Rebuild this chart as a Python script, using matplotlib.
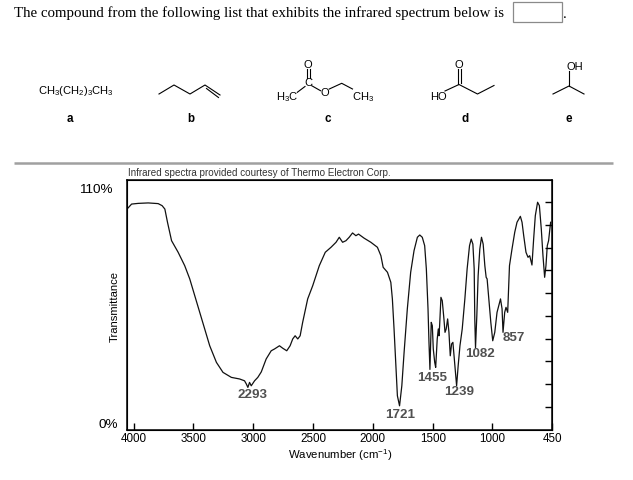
import matplotlib
matplotlib.use("Agg")
import matplotlib.pyplot as plt
from matplotlib.patches import Rectangle

plt.rcParams['font.family'] = ['Liberation Sans', 'DejaVu Sans']
plt.rcParams['mathtext.fontset'] = 'custom'
plt.rcParams['mathtext.rm'] = 'Liberation Sans'
plt.rcParams['mathtext.it'] = 'Liberation Sans:italic'
plt.rcParams['mathtext.bf'] = 'Liberation Sans:bold'

# ---- data ----
wavenumber = [4050, 4017, 3962, 3878, 3795, 3762, 3739, 3717, 3683, 3628, 3573, 3531,
              3489, 3447, 3406, 3364, 3308, 3253, 3183, 3114, 3073, 3058, 3045, 3031,
              3017, 2989, 2962, 2933, 2892, 2850, 2822, 2781, 2753, 2720, 2692, 2670,
              2650, 2628, 2608, 2587, 2545, 2503, 2448, 2398, 2350, 2308, 2281, 2253,
              2225, 2198, 2170, 2142, 2120, 2073, 2017, 1962, 1933, 1914, 1878, 1850,
              1837, 1823, 1808, 1795, 1777, 1758, 1739, 1712, 1684, 1656, 1628, 1608,
              1587, 1567, 1553, 1539, 1531, 1523, 1512, 1503, 1495, 1483, 1475, 1462,
              1453, 1447, 1442, 1431, 1420, 1406, 1397, 1387, 1375, 1364, 1353, 1342,
              1331, 1317, 1300, 1287, 1272, 1253, 1231, 1212, 1192, 1178, 1164, 1153,
              1148, 1142, 1131, 1120, 1106, 1092, 1078, 1064, 1053, 1045, 1031, 1014,
              998, 981, 962, 933, 920, 912, 898, 887, 873, 858, 837, 814, 795, 767,
              753, 739, 720, 703, 689, 670, 656, 642, 623, 608, 592, 578, 564, 553,
              542, 531, 523, 514]
transmittance = [97.3, 99.2, 99.5, 99.7, 99.4, 98.5, 97.0, 91.2, 83.1, 78.0, 72.1, 66.3,
                 58.9, 51.6, 44.3, 36.9, 29.6, 25.2, 23.0, 22.3, 21.5, 20.1, 18.6, 20.8,
                 19.3, 21.5, 23.0, 25.4, 31.1, 34.7, 35.5, 36.9, 35.8, 34.7, 36.9, 39.9,
                 41.3, 39.9, 41.3, 47.2, 57.5, 63.3, 72.1, 78.0, 80.2, 82.4, 84.6, 82.4,
                 83.1, 84.6, 86.5, 85.3, 86.0, 84.2, 82.4, 80.2, 76.5, 71.4, 69.2, 64.8,
                 57.5, 44.3, 28.1, 14.9, 10.5, 19.3, 34.0, 53.1, 69.2, 78.7, 84.6, 85.6,
                 84.6, 80.9, 70.7, 53.1, 38.4, 26.5, 47.2, 45.7, 35.5, 29.6, 27.4, 39.9,
                 44.3, 41.3, 45.7, 58.2, 56.7, 48.7, 42.8, 44.3, 48.7, 42.8, 32.5, 37.7,
                 38.4, 29.6, 19.3, 28.1, 36.9, 44.3, 57.5, 70.7, 80.9, 83.8, 81.6, 70.7,
                 48.7, 36.0, 50.1, 67.7, 79.4, 84.6, 81.6, 72.1, 67.0, 66.3, 57.5, 47.2,
                 39.1, 42.8, 51.6, 57.5, 53.1, 42.8, 51.6, 53.8, 51.6, 72.1, 79.4, 86.8,
                 91.2, 93.8, 91.2, 85.3, 78.0, 75.8, 76.5, 72.4, 83.8, 94.1, 100.0, 98.5,
                 88.2, 76.5, 67.0, 72.1, 80.9, 83.1, 86.8, 91.2]

peak_labels = ["2293", "1721", "1455", "1239", "1082", "857"]
peak_label_x = [3006, 1770, 1508, 1281, 1108, 820]
peak_label_y = [15.7, 6.9, 23.0, 17.2, 33.7, 40.6]

xtick_pos = [4000, 3500, 3000, 2500, 2000, 1500, 1000, 500]
xtick_labels = ["4000", "3500", "3000", "2500", "2000", "1500", "1000", "450"]
right_ticks = [10, 20, 30, 40, 50, 60, 70, 80, 90, 100]

compound_labels = ["a", "b", "c", "d", "e"]

W, H = 633, 481
fig = plt.figure(figsize=(W / 100, H / 100), dpi=100)

# ---- spectrum axes ----
L, R, T_, B = 127.3, 552.3, 180.5, 430.7
ax = fig.add_axes([L / W, (H - B) / H, (R - L) / W, (B - T_) / H])
ax.plot(wavenumber, transmittance, color="#111111", lw=0.9)
ax.set_xlim(4053, 500)
ax.set_ylim(0, 110)
for s in ax.spines.values():
    s.set_linewidth(1.1)
    s.set_color("black")
ax.set_xticks(xtick_pos)
ax.set_xticklabels(xtick_labels, fontsize=8.4)
ax.tick_params(axis="x", direction="in", length=5, width=1.0, pad=2)
ax.set_yticks([])
ax2 = ax.twinx()
ax2.set_ylim(0, 110)
ax2.set_yticks(right_ticks)
ax2.set_yticklabels([])
ax2.tick_params(axis="y", direction="in", length=5, width=1.0)
for lab, px, py in zip(peak_labels, peak_label_x, peak_label_y):
    ax.text(px, py, lab, ha="center", va="center", fontsize=9.6,
            fontweight="bold", color="#505050")
ax.set_xlabel("Wavenumber (cm$^{-1}$)", fontsize=8.2, labelpad=1)

# ---- overlay (pixel coordinates) for page decorations ----
ov = fig.add_axes([0, 0, 1, 1], zorder=-1)
ov.set_xlim(0, W)
ov.set_ylim(H, 0)
ov.axis("off")

ov.text(14, 13, "The compound from the following list that exhibits the infrared spectrum below is",
        family="Liberation Serif", fontsize=10.7, ha="left", va="center", color="black")
ov.add_patch(Rectangle((513, 3), 49, 20, fill=False, edgecolor="#8a8a8a", lw=0.9))
ov.text(563.5, 14, ".", family="Liberation Serif", fontsize=10.7, ha="left", va="center")

ov.plot([14, 613], [164, 164], color="#a0a0a0", lw=1.8, solid_capstyle="butt")
ov.text(128, 173, "Infrared spectra provided courtesy of Thermo Electron Corp.",
        fontsize=7.1, ha="left", va="center", color="#333333")
ov.text(113, 190, "110%", fontsize=9.7, ha="right", va="center")
ov.text(118, 425, "0%", fontsize=9.7, ha="right", va="center")
ov.text(115, 307, "Transmittance", fontsize=8.1, rotation=90, ha="center", va="center")

sfs = 8.0
lw = 0.8
# a
ov.text(76, 91, "CH$_3$(CH$_2$)$_3$CH$_3$", fontsize=sfs, ha="center", va="center")
# b  (1-pentene skeletal)
bx = [159, 174, 190, 205, 220]
by = [95, 86, 95, 86, 96]
ov.plot(bx, by, color="black", lw=lw)
ov.plot([206.5, 218.5], [89.5, 98.5], color="black", lw=lw)
# c  (ethyl acetate)
ov.text(287, 97, "H$_3$C", fontsize=sfs, ha="center", va="center")
ov.plot([297.3, 305], [93.3, 87.5], color="black", lw=lw)
ov.text(308.3, 83.3, "C", fontsize=sfs, ha="center", va="center")
ov.plot([306.8, 306.8], [70, 79], color="black", lw=lw)
ov.plot([309.6, 309.6], [70, 79], color="black", lw=lw)
ov.text(308.3, 65, "O", fontsize=sfs, ha="center", va="center")
ov.plot([311.7, 320.5], [86.7, 91.7], color="black", lw=lw)
ov.text(325, 93.3, "O", fontsize=sfs, ha="center", va="center")
ov.plot([329.3, 341.7, 352.5], [90, 84.3, 90], color="black", lw=lw)
ov.text(363, 97, "CH$_3$", fontsize=sfs, ha="center", va="center")
# d  (propanoic acid)
ov.text(438, 97, "HO", fontsize=sfs, ha="center", va="center")
ov.plot([445, 459, 477.5, 494], [92, 85.5, 95, 86.5], color="black", lw=lw)
ov.plot([457.6, 457.6], [70, 85], color="black", lw=lw)
ov.plot([460.6, 460.6], [70, 84], color="black", lw=lw)
ov.text(459.2, 65, "O", fontsize=sfs, ha="center", va="center")
# e  (isopropanol)
ov.text(575, 67, "OH", fontsize=sfs, ha="center", va="center")
ov.plot([569, 569], [72, 87], color="black", lw=lw)
ov.plot([553, 569, 584], [95, 87, 95], color="black", lw=lw)

for lab, lx in zip(compound_labels, [70, 191, 328, 465, 569]):
    ov.text(lx, 119, lab, fontsize=8.4, fontweight="bold", ha="center", va="center")

fig.savefig("out.png", dpi=100, facecolor="white")
